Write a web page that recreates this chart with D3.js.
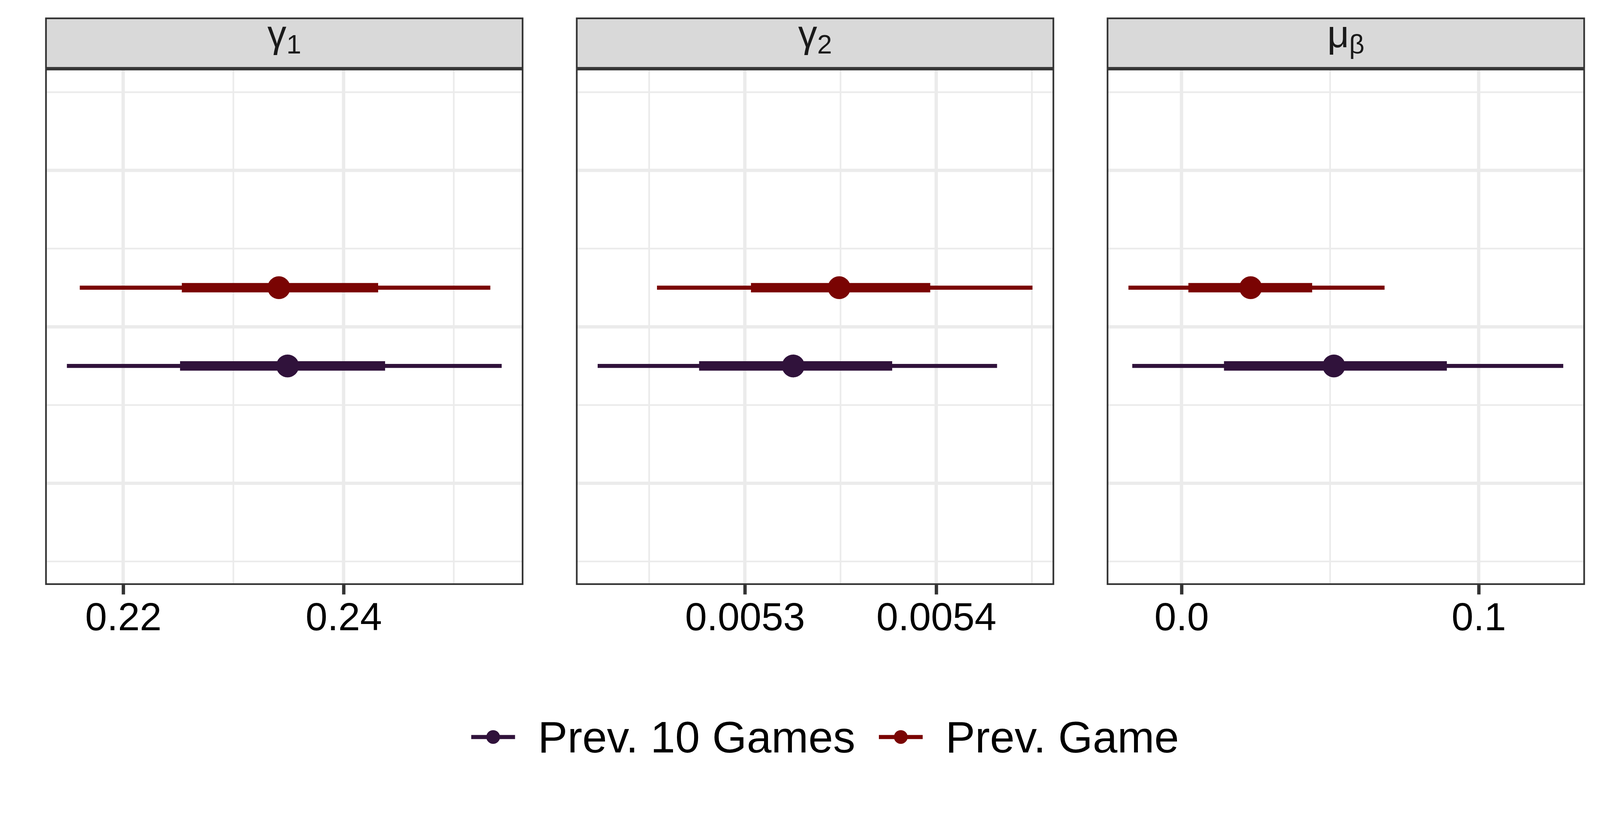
<!DOCTYPE html>
<html>
<head>
<meta charset="utf-8">
<script src="https://cdn.jsdelivr.net/npm/d3@7"></script>
<style>
  html, body { margin: 0; padding: 0; background: #ffffff; overflow: hidden; width: 100%; height: 100%; }
  svg { display: block; width: 100vw; height: calc(100vh / 1.026); }
  text { font-family: "Liberation Sans", Arial, Helvetica, sans-serif; }
</style>
</head>
<body>
<svg id="chart" viewBox="0 0 4200 2100" preserveAspectRatio="none"></svg>
<script>
// ---------------- data ----------------
const paramMain = ["γ", "γ", "μ"];
const paramSub  = ["1", "2", "β"];
const seriesNames = ["Prev. 10 Games", "Prev. Game"];
const seriesY = [-0.25, 0.25];

// Prev. 10 Games
const median10 = [0.23492, 0.0053253, 0.05128];
const lo66_10  = [0.22516, 0.0052761, 0.01429];
const hi66_10  = [0.24377, 0.0053770, 0.08929];
const lo95_10  = [0.21489, 0.0052231, -0.01658];
const hi95_10  = [0.25435, 0.0054318, 0.12846];

// Prev. Game
const medianPrev = [0.23413, 0.0053493, 0.02327];
const lo66Prev   = [0.22532, 0.0053032, 0.00231];
const hi66Prev   = [0.24314, 0.0053969, 0.04397];
const lo95Prev   = [0.21606, 0.0052541, -0.01786];
const hi95Prev   = [0.25332, 0.0054503, 0.06833];

const majorTicks = [[0.22, 0.24], [0.0053, 0.0054], [0.0, 0.1]];
const tickLabels = [["0.22", "0.24"], ["0.0053", "0.0054"], ["0.0", "0.1"]];
const minorTicks = [[0.23, 0.25], [0.00525, 0.00535, 0.00545], [0.05]];

const yMajor = [-1, 0, 1];
const yMinor = [-1.5, -0.5, 0.5, 1.5];
const yDomain = [-1.65, 1.65];

// ---------------- style / layout ----------------
const colors = ["#30123B", "#7A0403"];
const W = 4200, H = 2100;
const panelLeft0 = 118.5, panelW = 1255.5, panelGap = 137.8;
const stripTop = 46, stripBottom = 180.5, panelBottom = 1537;
const gridCol = "#EBEBEB", borderCol = "#333333";
const majorW = 8.7, minorW = 4.35;

const svg = d3.select("#chart");
svg.append("rect").attr("width", W).attr("height", H).attr("fill", "#ffffff");

const seriesData = [
  { med: median10, lo66: lo66_10, hi66: hi66_10, lo95: lo95_10, hi95: hi95_10 },
  { med: medianPrev, lo66: lo66Prev, hi66: hi66Prev, lo95: lo95Prev, hi95: hi95Prev }
];

const y = d3.scaleLinear().domain(yDomain).range([panelBottom, stripBottom]);
const defs = svg.append("defs");

for (let p = 0; p < 3; p++) {
  const left = panelLeft0 + p * (panelW + panelGap);
  const right = left + panelW;
  const allLo = d3.min(seriesData, s => s.lo95[p]);
  const allHi = d3.max(seriesData, s => s.hi95[p]);
  const ext = (allHi - allLo) * 0.05;
  const x = d3.scaleLinear().domain([allLo - ext, allHi + ext]).range([left, right]);

  const g = svg.append("g");
  const clipId = "clip" + p;
  defs.append("clipPath").attr("id", clipId)
    .append("rect").attr("x", left).attr("y", stripBottom)
    .attr("width", panelW).attr("height", panelBottom - stripBottom);

  const pg = g.append("g").attr("clip-path", `url(#${clipId})`);
  pg.append("rect").attr("x", left).attr("y", stripBottom)
    .attr("width", panelW).attr("height", panelBottom - stripBottom).attr("fill", "#ffffff");

  // minor grid
  pg.selectAll(".hmin").data(yMinor).join("line")
    .attr("x1", left).attr("x2", right).attr("y1", d => y(d)).attr("y2", d => y(d))
    .attr("stroke", gridCol).attr("stroke-width", minorW);
  pg.selectAll(".vmin").data(minorTicks[p]).join("line")
    .attr("x1", d => x(d)).attr("x2", d => x(d)).attr("y1", stripBottom).attr("y2", panelBottom)
    .attr("stroke", gridCol).attr("stroke-width", minorW);
  // major grid
  pg.selectAll(".hmaj").data(yMajor).join("line")
    .attr("x1", left).attr("x2", right).attr("y1", d => y(d)).attr("y2", d => y(d))
    .attr("stroke", gridCol).attr("stroke-width", majorW);
  pg.selectAll(".vmaj").data(majorTicks[p]).join("line")
    .attr("x1", d => x(d)).attr("x2", d => x(d)).attr("y1", stripBottom).attr("y2", panelBottom)
    .attr("stroke", gridCol).attr("stroke-width", majorW);

  // intervals
  seriesData.forEach((s, i) => {
    const yy = y(seriesY[i]);
    pg.append("line").attr("x1", x(s.lo95[p])).attr("x2", x(s.hi95[p]))
      .attr("y1", yy).attr("y2", yy).attr("stroke", colors[i]).attr("stroke-width", 10.7);
    pg.append("line").attr("x1", x(s.lo66[p])).attr("x2", x(s.hi66[p]))
      .attr("y1", yy).attr("y2", yy).attr("stroke", colors[i]).attr("stroke-width", 24.7);
    pg.append("circle").attr("cx", x(s.med[p])).attr("cy", yy).attr("r", 30)
      .attr("fill", colors[i]);
  });

  // panel border (half clipped look)
  g.append("rect").attr("x", left + 2.2).attr("y", stripBottom + 2.2)
    .attr("width", panelW - 4.4).attr("height", panelBottom - stripBottom - 4.4)
    .attr("fill", "none").attr("stroke", borderCol).attr("stroke-width", 4.4);

  // strip
  g.append("rect").attr("x", left).attr("y", stripTop)
    .attr("width", panelW).attr("height", stripBottom - stripTop).attr("fill", "#D9D9D9");
  g.append("rect").attr("x", left + 2.2).attr("y", stripTop + 2.2)
    .attr("width", panelW - 4.4).attr("height", stripBottom - stripTop - 4.4)
    .attr("fill", "none").attr("stroke", borderCol).attr("stroke-width", 4.4);
  const st = g.append("text").attr("x", (left + right) / 2).attr("y", 124)
    .attr("text-anchor", "middle").attr("fill", "#1A1A1A").attr("font-size", 100);
  st.append("tspan").text(paramMain[p]);
  st.append("tspan").attr("font-size", 70).attr("dy", 17).text(paramSub[p]);

  // x axis ticks
  const axisG = g.append("g").attr("transform", `translate(0,${panelBottom})`);
  const axis = d3.axisBottom(x).tickValues(majorTicks[p])
    .tickFormat((d, k) => tickLabels[p][k]).tickSize(25).tickPadding(20);
  axisG.call(axis);
  axisG.select(".domain").remove();
  axisG.selectAll(".tick line").attr("stroke", borderCol).attr("stroke-width", 8.8);
  axisG.selectAll(".tick text").attr("font-size", 103).attr("fill", "#000000")
    .attr("font-family", "'Liberation Sans', Arial, sans-serif")
    .attr("dy", null).attr("y", 119);
}

// ---------------- legend ----------------
const legY = 1936.5;
const leg = svg.append("g");
let lx = 1237;
seriesNames.forEach((name, i) => {
  leg.append("line").attr("x1", lx).attr("x2", lx + 115).attr("y1", legY).attr("y2", legY)
    .attr("stroke", colors[i]).attr("stroke-width", 10.7);
  leg.append("circle").attr("cx", lx + 57.5).attr("cy", legY).attr("r", 18).attr("fill", colors[i]);
  const t = leg.append("text").attr("x", lx + 175).attr("y", legY + 41)
    .attr("font-size", 116.5).attr("fill", "#000000").text(name);
  const w = t.node().getComputedTextLength();
  lx = lx + 175 + w + 62;
});
</script>
</body>
</html>
